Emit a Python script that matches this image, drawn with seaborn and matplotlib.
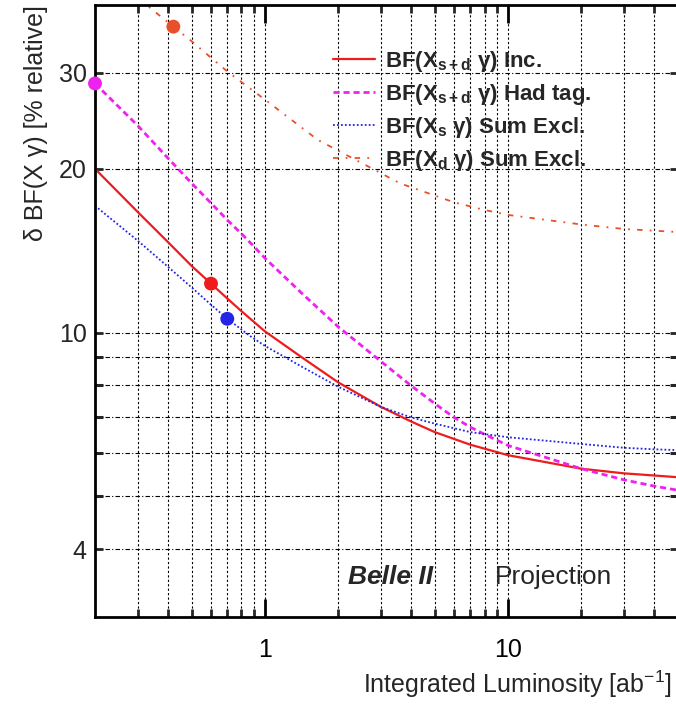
import pandas as pd
import seaborn as sns
import matplotlib.pyplot as plt
from matplotlib.ticker import FixedLocator, FixedFormatter, NullFormatter

sns.set_theme(style="white")
plt.rcParams['font.family'] = ['Liberation Sans', 'DejaVu Sans']
plt.rcParams['mathtext.fontset'] = 'custom'
plt.rcParams['mathtext.rm'] = 'Liberation Sans'
plt.rcParams['mathtext.bf'] = 'Liberation Sans:bold'
plt.rcParams['axes.unicode_minus'] = False

# values (lumi in ab^-1, error in % relative)
inc_lumi = [0.2, 0.3, 0.4, 0.5, 0.6, 0.7, 0.8, 1, 1.42, 2, 3, 4, 5, 7, 10, 20, 30, 40, 50]
inc_err = [20, 16.65, 14.65, 13.25, 12.3, 11.55, 10.95, 10.05, 9.0, 8.1, 7.3, 6.86, 6.56, 6.22, 5.95, 5.62, 5.51, 5.46, 5.42]

had_lumi = [0.2, 0.3, 0.4, 0.5, 0.6, 0.7, 0.8, 0.9, 1, 1.42, 2, 3, 4, 5, 6, 7, 8, 10, 20, 30, 40, 50]
had_err = [28.7, 24.0, 20.9, 18.8, 17.3, 16.1, 15.2, 14.4, 13.7, 11.8, 10.25, 8.85, 7.98, 7.4, 6.98, 6.7, 6.5, 6.2, 5.62, 5.36, 5.22, 5.13]

xs_lumi = [0.2, 0.3, 0.4, 0.5, 0.6, 0.7, 0.87, 1, 1.42, 2, 3, 4, 5, 7, 10, 20, 30, 40, 50]
xs_err = [17.1, 14.75, 13.2, 12.1, 11.25, 10.6, 9.85, 9.45, 8.65, 7.95, 7.3, 6.98, 6.8, 6.56, 6.42, 6.24, 6.14, 6.1, 6.08]

xd_lumi = [0.2, 0.3, 0.42, 0.5, 0.6, 0.7, 1, 1.65, 3.6, 6, 8, 10, 20, 30, 50]
xd_err = [47.5, 41.2, 36.5, 34.3, 32.0, 30.2, 26.8, 22.6, 18.8, 17.35, 16.8, 16.45, 15.8, 15.5, 15.3]

# current-measurement markers
mark_lumi = [0.6, 0.2, 0.7, 0.42]
mark_err = [12.3, 28.7, 10.6, 36.5]

labels = [r"BF(X$_{\mathbf{s+d}}$ γ) Inc.",
          r"BF(X$_{\mathbf{s+d}}$ γ) Had tag.",
          r"BF(X$_{\mathbf{s}}$ γ) Sum Excl.",
          r"BF(X$_{\mathbf{d}}$ γ) Sum Excl."]
colors = ['#ee1c1c', '#ee22ee', '#2424e6', '#e8502a']

fig = plt.figure(figsize=(6.76, 7.09), dpi=100)
ax = fig.add_axes([95 / 676, 1 - 617 / 709, 583 / 676, 612 / 709])

sns.lineplot(x=inc_lumi, y=inc_err, ax=ax, color=colors[0], lw=1.6, label=labels[0])
sns.lineplot(x=had_lumi, y=had_err, ax=ax, color=colors[1], lw=2.0,
             linestyle=(0, (2.2, 1.4)), label=labels[1])
sns.lineplot(x=xs_lumi, y=xs_err, ax=ax, color=colors[2], lw=1.3,
             linestyle=(0, (1, 1.2)), label=labels[2])
sns.lineplot(x=xd_lumi, y=xd_err, ax=ax, color=colors[3], lw=1.3,
             linestyle=(0, (3, 4, 1, 4)), label=labels[3])
sns.scatterplot(x=mark_lumi, y=mark_err, ax=ax, hue=labels, palette=colors,
                s=100, edgecolor='none', legend=False, zorder=5, clip_on=False)

ax.set_xscale('log')
ax.set_yscale('log')
ax.set_xlim(0.2, 50)
ax.set_ylim(3, 40)

ax.xaxis.set_major_locator(FixedLocator([1, 10]))
ax.xaxis.set_major_formatter(FixedFormatter(['1', '10']))
ax.xaxis.set_minor_locator(FixedLocator([0.3, 0.4, 0.5, 0.6, 0.7, 0.8, 0.9,
                                         2, 3, 4, 5, 6, 7, 8, 9, 20, 30, 40]))
ax.xaxis.set_minor_formatter(NullFormatter())
ax.yaxis.set_major_locator(FixedLocator([4, 10, 20, 30]))
ax.yaxis.set_major_formatter(FixedFormatter(['4', '10', '20', '30']))
ax.yaxis.set_minor_locator(FixedLocator([5, 6, 7, 8, 9]))
ax.yaxis.set_minor_formatter(NullFormatter())

ax.xaxis.grid(True, which='both', color='black', lw=0.8, linestyle=(0, (2, 2)))
ax.yaxis.grid(True, which='both', color='black', lw=0.8, linestyle=(0, (4, 2, 1, 2)))

for side in ['top', 'bottom', 'left', 'right']:
    ax.spines[side].set_linewidth(2.0)
    ax.spines[side].set_color('black')

ax.tick_params(axis='x', which='major', direction='in', length=13, width=2,
               top=True, bottom=True, labelsize=18, pad=15, colors='black')
ax.tick_params(axis='x', which='minor', direction='in', length=6, width=2,
               top=True, bottom=True)
ax.tick_params(axis='y', which='major', direction='in', length=6, width=2,
               left=True, right=True, labelsize=18, pad=6)
ax.tick_params(axis='y', which='minor', direction='in', length=5.5, width=2.2,
               left=True, right=True)

ax.set_xlabel(r"Integrated Luminosity [ab$^{-1}$]", fontsize=18, loc='right', labelpad=5)
ax.xaxis.label.set_x(0.99)
ax.set_ylabel("δ BF(X γ) [% relative]", fontsize=18, loc='top', labelpad=8)

ax.legend(loc='upper left', bbox_to_anchor=(0.393, 0.943), frameon=False,
          prop={'weight': 'bold', 'size': 16}, handlelength=1.9,
          handletextpad=0.45, labelspacing=0.36, borderaxespad=0)

ax.text(0.434, 0.065, "Belle II", transform=ax.transAxes, fontsize=19,
        fontweight='bold', fontstyle='italic', va='center', ha='left')
ax.text(0.686, 0.065, "Projection", transform=ax.transAxes, fontsize=19,
        va='center', ha='left')

fig.savefig('out.png', dpi=100)
